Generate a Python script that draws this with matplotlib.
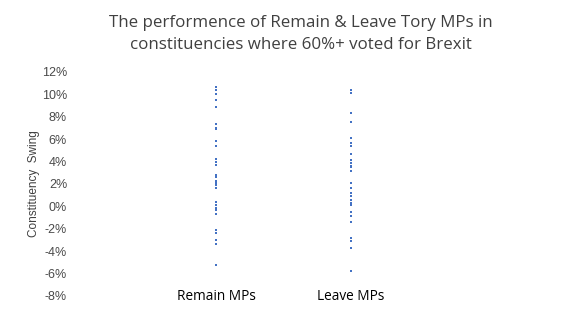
import numpy as np
import matplotlib.pyplot as plt

# constituency swing (%), one value per MP
remain_swing = [10.7, 10.4, 10.0, 9.5, 8.9, 7.4, 7.0, 6.9, 5.8, 5.4, 4.2, 4.0, 3.7,
                2.8, 2.6, 2.3, 2.1, 1.9, 1.6, 0.4, 0.15, -0.1, -0.3, -0.7,
                -2.1, -2.4, -3.0, -3.4, -5.2]
leave_swing = [10.4, 10.1, 8.3, 7.5, 6.1, 5.7, 5.4, 4.7, 4.1, 3.9, 3.6, 3.5, 3.2,
               2.1, 1.6, 1.2, 0.9, 0.6, 0.3, 0.1, -0.5, -0.9, -1.4,
               -2.8, -3.1, -3.7, -5.8]
categories = ["Remain MPs", "Leave MPs"]
yticks = list(range(-8, 13, 2))

fig = plt.figure(figsize=(5.61, 3.2), dpi=100)
ax = fig.add_axes([81 / 561, 1 - 296 / 320, 405 / 561, 224 / 320])

blue = "#4472C4"
ax.plot(np.full(len(remain_swing), 1.0), remain_swing, "s", color=blue, markersize=1.8,
        markeredgewidth=0)
ax.plot(np.full(len(leave_swing), 2.0), leave_swing, "s", color=blue, markersize=1.8,
        markeredgewidth=0)

ax.set_xlim(0, 3)
ax.set_ylim(-8, 12)
ax.set_yticks(yticks)
ax.set_yticklabels([f"{t}%" for t in yticks], fontfamily="Liberation Sans",
                   fontsize=9, color="#4a4a4a")
ax.tick_params(axis="y", length=0, pad=10)
ax.set_xticks([])
for s in ax.spines.values():
    s.set_visible(False)

for i, c in enumerate(categories):
    ax.text(i + 1, -8, c, ha="center", va="center", fontsize=9.8,
            fontfamily="Open Sans", color="black")

ax.set_ylabel("Constituency  Swing", fontfamily="Liberation Sans", fontsize=8.5,
              color="#404040", labelpad=1)

fig.text(301 / 561, 1 - 34 / 320,
         "The performence of Remain & Leave Tory MPs in\nconstituencies where 60%+ voted for Brexit",
         ha="center", va="center", fontsize=12.2, fontfamily="Open Sans",
         color="#404040", linespacing=1.45)

fig.savefig("out.png", dpi=100)
